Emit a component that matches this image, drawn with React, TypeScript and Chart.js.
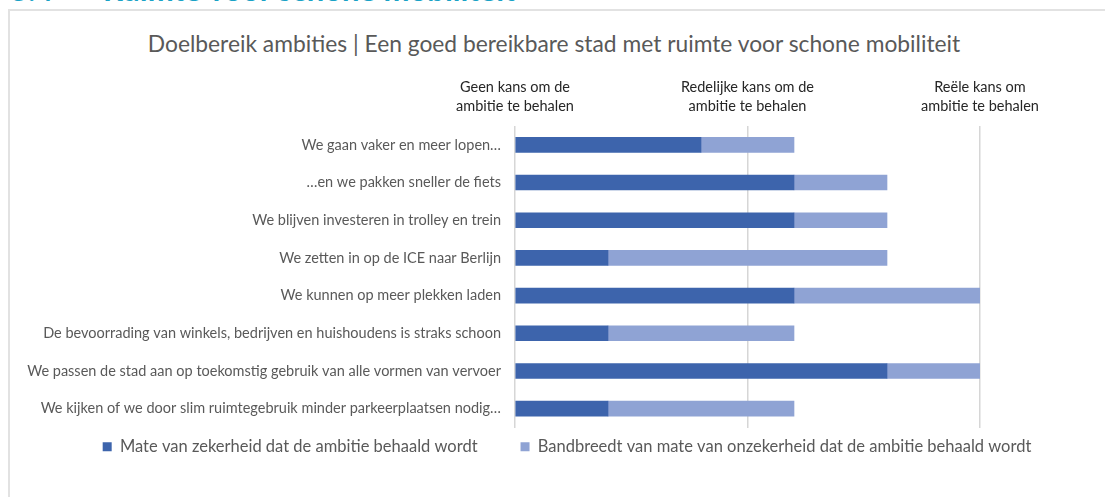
import React, { useEffect, useRef } from "react";
import { Chart, registerables } from "chart.js";

Chart.register(...registerables);

const categories = [
  "We gaan vaker en meer lopen…",
  "…en we pakken sneller de fiets",
  "We blijven investeren in trolley en trein",
  "We zetten in op de ICE naar Berlijn",
  "We kunnen op meer plekken laden",
  "De bevoorrading van winkels, bedrijven en huishoudens is straks schoon",
  "We passen de stad aan op toekomstig gebruik van alle vormen van vervoer",
  "We kijken of we door slim ruimtegebruik minder parkeerplaatsen nodig…",
];

const zekerheid = [2, 3, 3, 1, 3, 1, 4, 1];
const bandbreedte = [1, 1, 1, 3, 2, 2, 1, 2];

const seriesNames = [
  "Mate van zekerheid dat de ambitie behaald wordt",
  "Bandbreedt van mate van onzekerheid dat de ambitie behaald wordt",
];

const topTickValues = [0, 2.5, 5];
const topTickLabels: string[][] = [
  ["Geen kans om de", "ambitie te behalen"],
  ["Redelijke kans om de", "ambitie te behalen"],
  ["Reële kans om", "ambitie te behalen"],
];

const FONT = "Lato, 'Open Sans', sans-serif";

// raises the legend so its wide item spacing does not push the plot up
const legendLift = {
  id: "legendLift",
  afterLayout(chart: any) {
    const l = chart.legend;
    if (l) {
      l.top -= 32;
      l.bottom -= 32;
    }
  },
};

export default function App() {
  const canvasRef = useRef<HTMLCanvasElement | null>(null);

  useEffect(() => {
    const canvas = canvasRef.current;
    if (!canvas) return;
    const chart = new Chart(canvas, {
      type: "bar",
      data: {
        labels: categories,
        datasets: [
          {
            label: seriesNames[0],
            data: zekerheid,
            backgroundColor: "#3d64ac",
            barThickness: 15,
            yAxisID: "y",
            xAxisID: "x",
          },
          {
            label: seriesNames[1],
            data: bandbreedte,
            backgroundColor: "#8fa3d4",
            barThickness: 15,
            yAxisID: "y",
            xAxisID: "x",
          },
        ],
      },
      plugins: [legendLift],
      options: {
        indexAxis: "y",
        animation: false,
        responsive: false,
        maintainAspectRatio: false,
        layout: { padding: { left: 0, right: 0, top: 57, bottom: 0 } },
        plugins: {
          title: { display: false },
          tooltip: { enabled: false },
          legend: {
            display: true,
            position: "bottom",
            labels: {
              boxWidth: 9,
              boxHeight: 9,
              padding: 43,
              color: "#595959",
              font: { family: FONT, size: 16.5 },
            },
          },
        },
        scales: {
          x: {
            stacked: true,
            min: 0,
            max: 5,
            position: "bottom",
            ticks: { display: false, stepSize: 2.5 },
            grid: { color: "#d6d6d6", lineWidth: 1.5, drawTicks: false },
            border: { display: false },
          },
          xTop: {
            type: "linear",
            axis: "x",
            position: "top",
            min: 0,
            max: 5,
            afterBuildTicks: (scale: any) => {
              scale.ticks = topTickValues.map((v) => ({ value: v }));
            },
            ticks: {
              color: "#262626",
              font: { family: FONT, size: 14.5, lineHeight: 1.31 },
              padding: 10,
              maxRotation: 0,
              autoSkip: false,
              callback: (value: any) => {
                const i = topTickValues.indexOf(Number(value));
                return i >= 0 ? topTickLabels[i] : "";
              },
            },
            grid: { display: false, drawTicks: false },
            border: { display: false },
          },
          y: {
            stacked: true,
            position: "left",
            ticks: {
              color: "#595959",
              font: { family: FONT, size: 14.5 },
              padding: 14,
              autoSkip: false,
            },
            grid: { display: false, drawTicks: false },
            border: { display: false },
            afterFit: (scale: any) => {
              scale.width = 506;
            },
          },
          yRightSpace: {
            type: "category",
            axis: "y",
            position: "right",
            labels: [""],
            ticks: { display: false },
            grid: { display: false, drawTicks: false },
            border: { display: false },
            afterFit: (scale: any) => {
              scale.width = 145;
            },
          },
        },
      } as any,
    });
    return () => chart.destroy();
  }, []);

  return (
    <div
      style={{
        position: "fixed",
        left: 0,
        top: 0,
        width: 1105,
        height: 497,
        overflow: "hidden",
        background: "#ffffff",
      }}
    >
      <div
        style={{
          position: "absolute",
          left: 10,
          top: -26,
          whiteSpace: "pre",
          fontFamily: FONT,
          fontWeight: 700,
          fontSize: 31,
          lineHeight: "31px",
          color: "#1aa2c6",
        }}
      >
        <span>3.4</span>
        <span style={{ position: "absolute", left: 93 }}>Ruimte voor schone mobiliteit</span>
      </div>
      <div
        style={{
          position: "absolute",
          left: 8,
          top: 9,
          width: 1200,
          height: 600,
          borderTop: "2px solid #e2e2e2",
          borderLeft: "2px solid #e2e2e2",
        }}
      />
      <div
        style={{
          position: "absolute",
          left: 0,
          top: 29,
          width: 1108,
          textAlign: "center",
          fontFamily: FONT,
          fontSize: 22.8,
          lineHeight: "28px",
          color: "#595959",
          whiteSpace: "nowrap",
        }}
      >
        Doelbereik ambities | Een goed bereikbare stad met ruimte voor schone mobiliteit
      </div>
      <canvas
        ref={canvasRef}
        width={1116}
        height={486}
        style={{ position: "absolute", left: 9, top: 11, width: 1116, height: 486 }}
      />
    </div>
  );
}
